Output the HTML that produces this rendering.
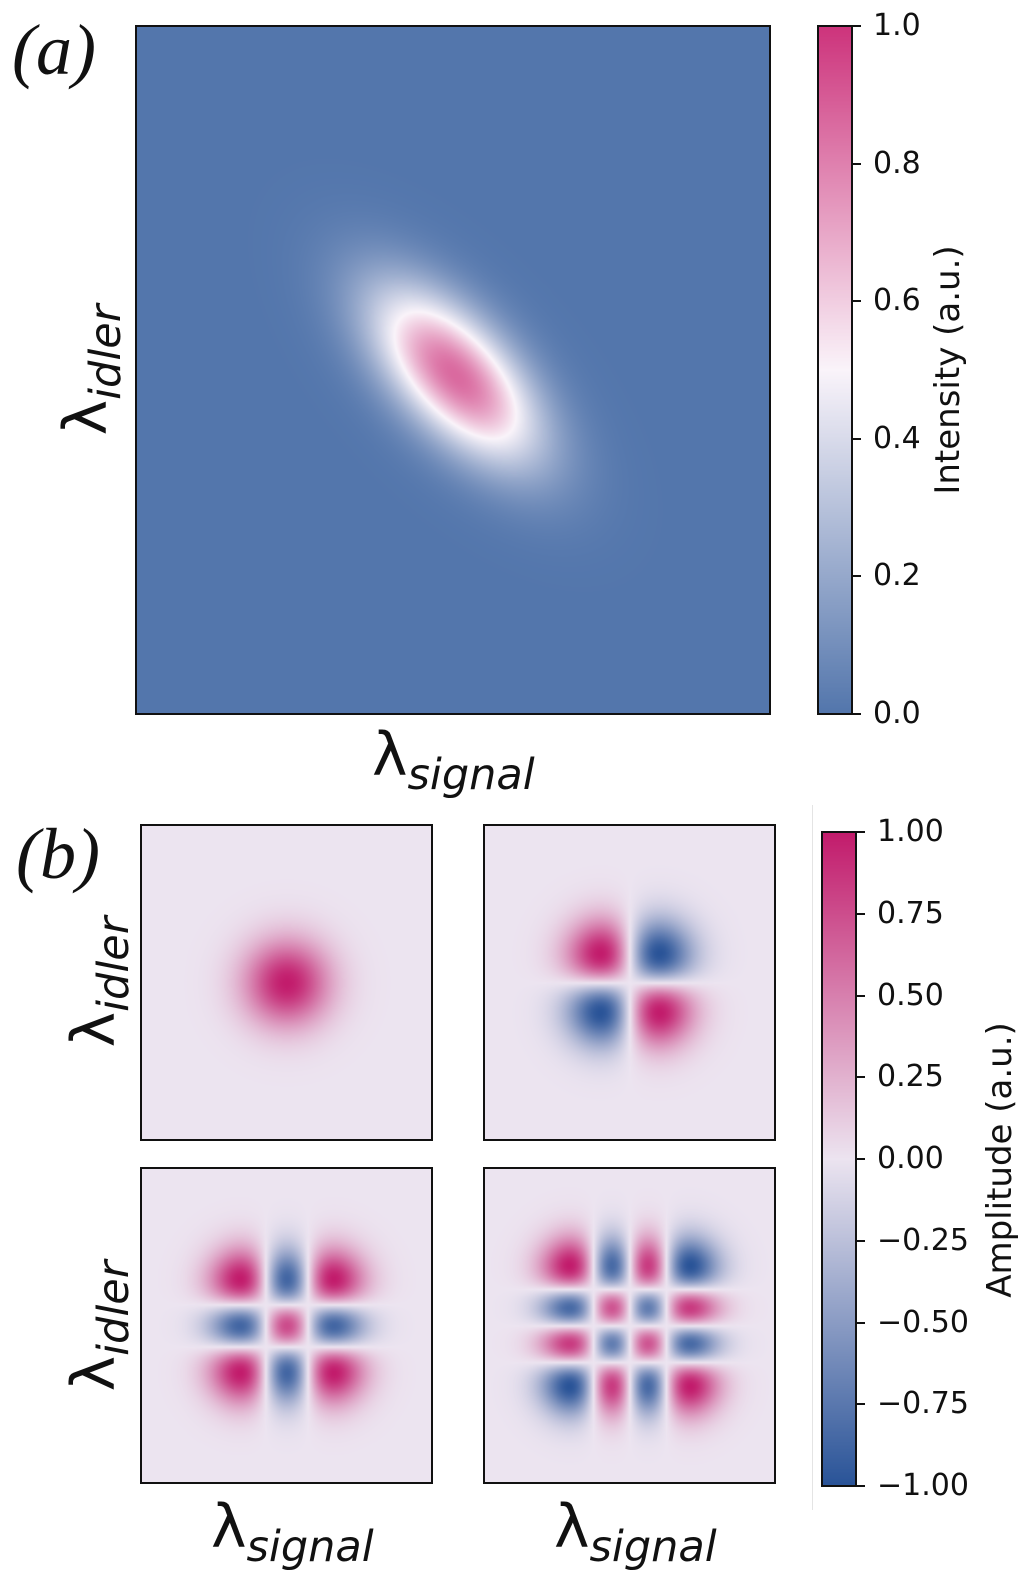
<!DOCTYPE html>
<html><head><meta charset="utf-8">
<style>
body{margin:0;background:#fff;}
#root{position:relative;width:1025px;height:1573px;overflow:hidden;background:#fff;font-family:"DejaVu Sans","Liberation Sans",sans-serif;color:#111;}
.abs{position:absolute;}
canvas{position:absolute;box-sizing:border-box;border:2px solid #111;}
.tick{position:absolute;height:2px;width:8px;background:#111;}
.tl{position:absolute;font-size:30px;line-height:30px;transform:translateY(-50%);white-space:nowrap;}
.rot{position:absolute;transform:translate(-50%,-50%) rotate(-90deg);white-space:nowrap;}
.lam{font-family:"DejaVu Sans",sans-serif;font-size:60px;line-height:60px;}
.lam sub{font-style:italic;font-size:43px;vertical-align:-14px;}
.panel{font-family:"Liberation Serif",serif;font-style:italic;font-size:72px;line-height:72px;}
</style></head><body>
<div id="root">
<div class="abs panel" style="left:12px;top:14px;">(a)</div>
<div class="abs panel" style="left:16px;top:818px;">(b)</div>

<canvas id="ca" width="634" height="688" style="left:135px;top:25px;width:636px;height:690px;"></canvas>
<div class="rot lam" style="left:96px;top:370px;">λ<sub>idler</sub></div>
<div class="abs lam" style="left:372px;top:725px;">λ<sub>signal</sub></div>

<canvas id="cba" width="34" height="688" style="left:817px;top:25px;width:36px;height:690px;"></canvas>
<div id="ticksA"></div>
<div class="rot" style="left:948px;top:370px;font-size:34px;">Intensity (a.u.)</div>

<canvas id="m0" width="291" height="315" style="left:140px;top:824px;width:293px;height:317px;"></canvas>
<canvas id="m1" width="291" height="315" style="left:483px;top:824px;width:293px;height:317px;"></canvas>
<canvas id="m2" width="291" height="315" style="left:140px;top:1167px;width:293px;height:317px;"></canvas>
<canvas id="m3" width="291" height="315" style="left:483px;top:1167px;width:293px;height:317px;"></canvas>
<div class="rot lam" style="left:104px;top:982px;">λ<sub>idler</sub></div>
<div class="rot lam" style="left:104px;top:1326px;">λ<sub>idler</sub></div>
<div class="abs lam" style="left:211px;top:1497px;">λ<sub>signal</sub></div>
<div class="abs lam" style="left:554px;top:1497px;">λ<sub>signal</sub></div>
<div class="abs" style="left:812px;top:805px;width:1px;height:705px;background:#e4e4e4;"></div>

<canvas id="cbb" width="34" height="654" style="left:821px;top:831px;width:36px;height:656px;"></canvas>
<div id="ticksB"></div>
<div class="rot" style="left:1000px;top:1160px;font-size:34px;">Amplitude (a.u.)</div>
</div>
<script>
// panel (a) data
const jsaCenter = [0.503, 0.507];      // fractional position of peak
const jsaSigma = [0.12, 0.058];        // major/minor widths (fraction of width)
const jsaAngleDeg = [47];
const jsaPeak = [0.86];
const ticksAVals = [0.0, 0.2, 0.4, 0.6, 0.8, 1.0];
const ticksALabels = ["0.0","0.2","0.4","0.6","0.8","1.0"];
// panel (b) data
const modeOrders = [0, 1, 2, 3];
const modeWidth = [0.103];             // Hermite scale as fraction of width
const ticksBVals = [1, 0.75, 0.5, 0.25, 0, -0.25, -0.5, -0.75, -1];
const ticksBLabels = ["1.00","0.75","0.50","0.25","0.00","\u22120.25","\u22120.50","\u22120.75","\u22121.00"];

function lerp(a,b,t){return [0,1,2].map(i=>a[i]+(b[i]-a[i])*t);}
function cmapA(v){
  v=Math.max(0,Math.min(1,v));
  const c0=[83,118,172],c1=[250,244,250],c2=[205,52,124];
  return v<0.5?lerp(c0,c1,v/0.5):lerp(c1,c2,(v-0.5)/0.5);
}
function cmapB(v){
  v=Math.max(-1,Math.min(1,v));
  const n=[42,84,152],z=[236,228,240],p=[194,28,108];
  return v<0?lerp(z,n,-v):lerp(z,p,v);
}
function fill(cv,f){
  const ctx=cv.getContext('2d'),W=cv.width,H=cv.height,im=ctx.createImageData(W,H);
  for(let y=0;y<H;y++)for(let x=0;x<W;x++){const c=f(x,y,W,H),k=(y*W+x)*4;im.data[k]=c[0];im.data[k+1]=c[1];im.data[k+2]=c[2];im.data[k+3]=255;}
  ctx.putImageData(im,0,0);
}
const th=jsaAngleDeg[0]*Math.PI/180;
fill(document.getElementById('ca'),(x,y,W,H)=>{
  const dx=x-jsaCenter[0]*W, dy=y-jsaCenter[1]*H;
  const u=dx*Math.cos(th)+dy*Math.sin(th), w=-dx*Math.sin(th)+dy*Math.cos(th);
  const su=jsaSigma[0]*W, sw=jsaSigma[1]*W;
  return cmapA(jsaPeak[0]*Math.exp(-0.5*(u*u/(su*su)+w*w/(sw*sw))));
});
fill(document.getElementById('cba'),(x,y,W,H)=>cmapA(1-y/(H-1)));
fill(document.getElementById('cbb'),(x,y,W,H)=>cmapB(1-2*y/(H-1)));
function herm(n,u){let h0=1,h1=2*u;if(n===0)return h0;for(let k=1;k<n;k++){const h2=2*u*h1-2*k*h0;h0=h1;h1=h2;}return h1;}
modeOrders.forEach((n,i)=>{
  const cv=document.getElementById('m'+i),W=cv.width,H=cv.height,s=modeWidth[0]*W;
  let mx=0;
  for(let t=-6;t<=6;t+=0.01){mx=Math.max(mx,Math.abs(herm(n,t)*Math.exp(-t*t/2)));}
  fill(cv,(x,y)=>{
    const u=(x-W/2)/s,v=(y-H/2)/s;
    const a=herm(n,u)*Math.exp(-u*u/2)/mx, b=herm(n,v)*Math.exp(-v*v/2)/mx;
    return cmapB(a*b);
  });
});
function ticks(id,vals,labels,x0,top,h,vmin,vmax,name){
  const box=document.getElementById(id);
  vals.forEach((v,i)=>{
    const y=top+(vmax-v)/(vmax-vmin)*h;
    const t=document.createElement('div');t.className='tick';t.style.left=x0+'px';t.style.top=(y-1)+'px';
    
    
    box.appendChild(t);
    const l=document.createElement('div');l.className='tl';l.style.left=(x0+20)+'px';l.style.top=y+'px';l.textContent=labels[i];
    
    
    box.appendChild(l);
  });
}
ticks('ticksA',ticksAVals,ticksALabels,853,26,688,0,1,'colorbar-a');
ticks('ticksB',ticksBVals,ticksBLabels,857,832,654,-1,1,'colorbar-b');
</script>
</body></html>
